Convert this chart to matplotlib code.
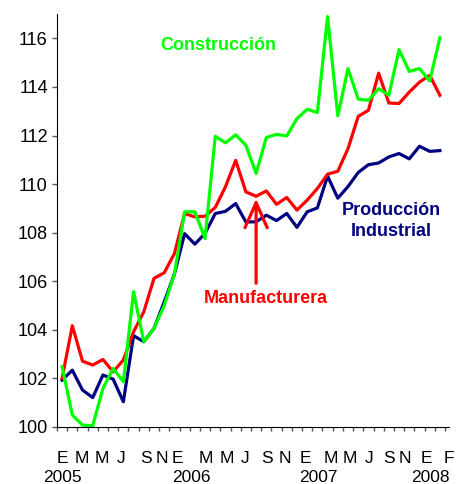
import matplotlib.pyplot as plt
from matplotlib.transforms import blended_transform_factory

plt.rcParams['font.family'] = ['Liberation Sans', 'DejaVu Sans']

# monthly index, Jan 2005 .. Feb 2008
produccion = [101.93, 102.34, 101.52, 101.21, 102.14, 101.97, 101.04, 103.76, 103.51, 104.06,
              105.15, 106.30, 107.96, 107.53, 107.97, 108.79, 108.88, 109.20, 108.44, 108.45,
              108.72, 108.50, 108.79, 108.22, 108.86, 109.02, 110.33, 109.42, 109.90, 110.48,
              110.80, 110.87, 111.12, 111.26, 111.04, 111.56, 111.35, 111.38]
manufacturera = [102.00, 104.17, 102.71, 102.55, 102.78, 102.27, 102.76, 103.92, 104.74, 106.12,
                 106.35, 107.14, 108.79, 108.65, 108.68, 109.04, 109.89, 110.98, 109.68, 109.50,
                 109.72, 109.17, 109.45, 108.93, 109.34, 109.82, 110.41, 110.53, 111.46, 112.79,
                 113.04, 114.57, 113.34, 113.32, 113.79, 114.20, 114.48, 113.66]
construccion = [102.48, 100.49, 100.08, 100.05, 101.59, 102.41, 101.86, 105.57, 103.51, 104.06,
                105.00, 106.30, 108.86, 108.86, 107.76, 111.97, 111.70, 112.03, 111.60, 110.44,
                111.92, 112.05, 111.98, 112.70, 113.08, 112.95, 116.90, 112.81, 114.76, 113.50,
                113.45, 113.93, 113.66, 115.54, 114.64, 114.76, 114.25, 116.03]

month_labels = ['E', 'M', 'M', 'J', 'S', 'N', 'E', 'M', 'M', 'J', 'S', 'N',
                'E', 'M', 'M', 'J', 'S', 'N', 'E', 'F']
years = ['2005', '2006', '2007', '2008']

# where the letters/years sit along the axis (in month units)
month_label_pos = [0, 1.94, 3.9, 5.8, 8.2, 9.8, 11.3, 14.1, 16.1, 17.9, 20.1, 21.8,
                   23.8, 26.3, 28.2, 30.1, 32.0, 33.6, 35.7, 37.9]
year_pos = [0.05, 12.7, 25.1, 36.1]

x = list(range(len(produccion)))

fig = plt.figure(figsize=(4.57, 4.84), dpi=100)
ax = fig.add_axes([0.1247, 0.1178, 0.858, 0.853])

ax.plot(x, produccion, color='#000080', lw=2.3)
ax.plot(x, manufacturera, color='#ff0000', lw=2.3)
ax.plot(x, construccion, color='#00ff00', lw=2.3)

ax.set_xlim(-0.5, len(x) - 0.5)
ax.set_ylim(100, 117)
ax.set_yticks(range(100, 117, 2))

ax.set_xticks(month_label_pos)
ax.set_xticklabels(month_labels)
ax.set_xticks([i - 0.5 for i in range(len(x) + 1)], minor=True)
ax.tick_params(axis='x', which='major', length=0, pad=17, labelsize=12.5)
ax.tick_params(axis='x', which='minor', length=3, width=1, color='#555555')
ax.tick_params(axis='y', length=3.6, width=1, pad=3, labelsize=13, color='#555555')

for s in ['top', 'right']:
    ax.spines[s].set_visible(False)

trans = blended_transform_factory(ax.transData, ax.transAxes)
for yr, p in zip(years, year_pos):
    ax.text(p, -0.122, yr, transform=trans, ha='center', va='center', fontsize=12.5)

ax.text(15.3, 115.7, 'Construcción', color='#00ff00', fontsize=13,
        fontweight='bold', ha='center', va='center')
ax.text(32.2, 108.5, 'Producción\nIndustrial', color='#000080', fontsize=13,
        fontweight='bold', ha='center', va='center', linespacing=1.3)
ax.text(19.95, 105.3, 'Manufacturera', color='#ff0000', fontsize=13,
        fontweight='bold', ha='center', va='center')

ax.annotate('', xy=(19, 109.4), xytext=(19, 105.92),
            arrowprops=dict(arrowstyle='->,head_length=0.9,head_width=0.4',
                            color='#ff0000', lw=2.3, mutation_scale=20,
                            shrinkA=0, shrinkB=0))

fig.savefig('out.png', dpi=100)
